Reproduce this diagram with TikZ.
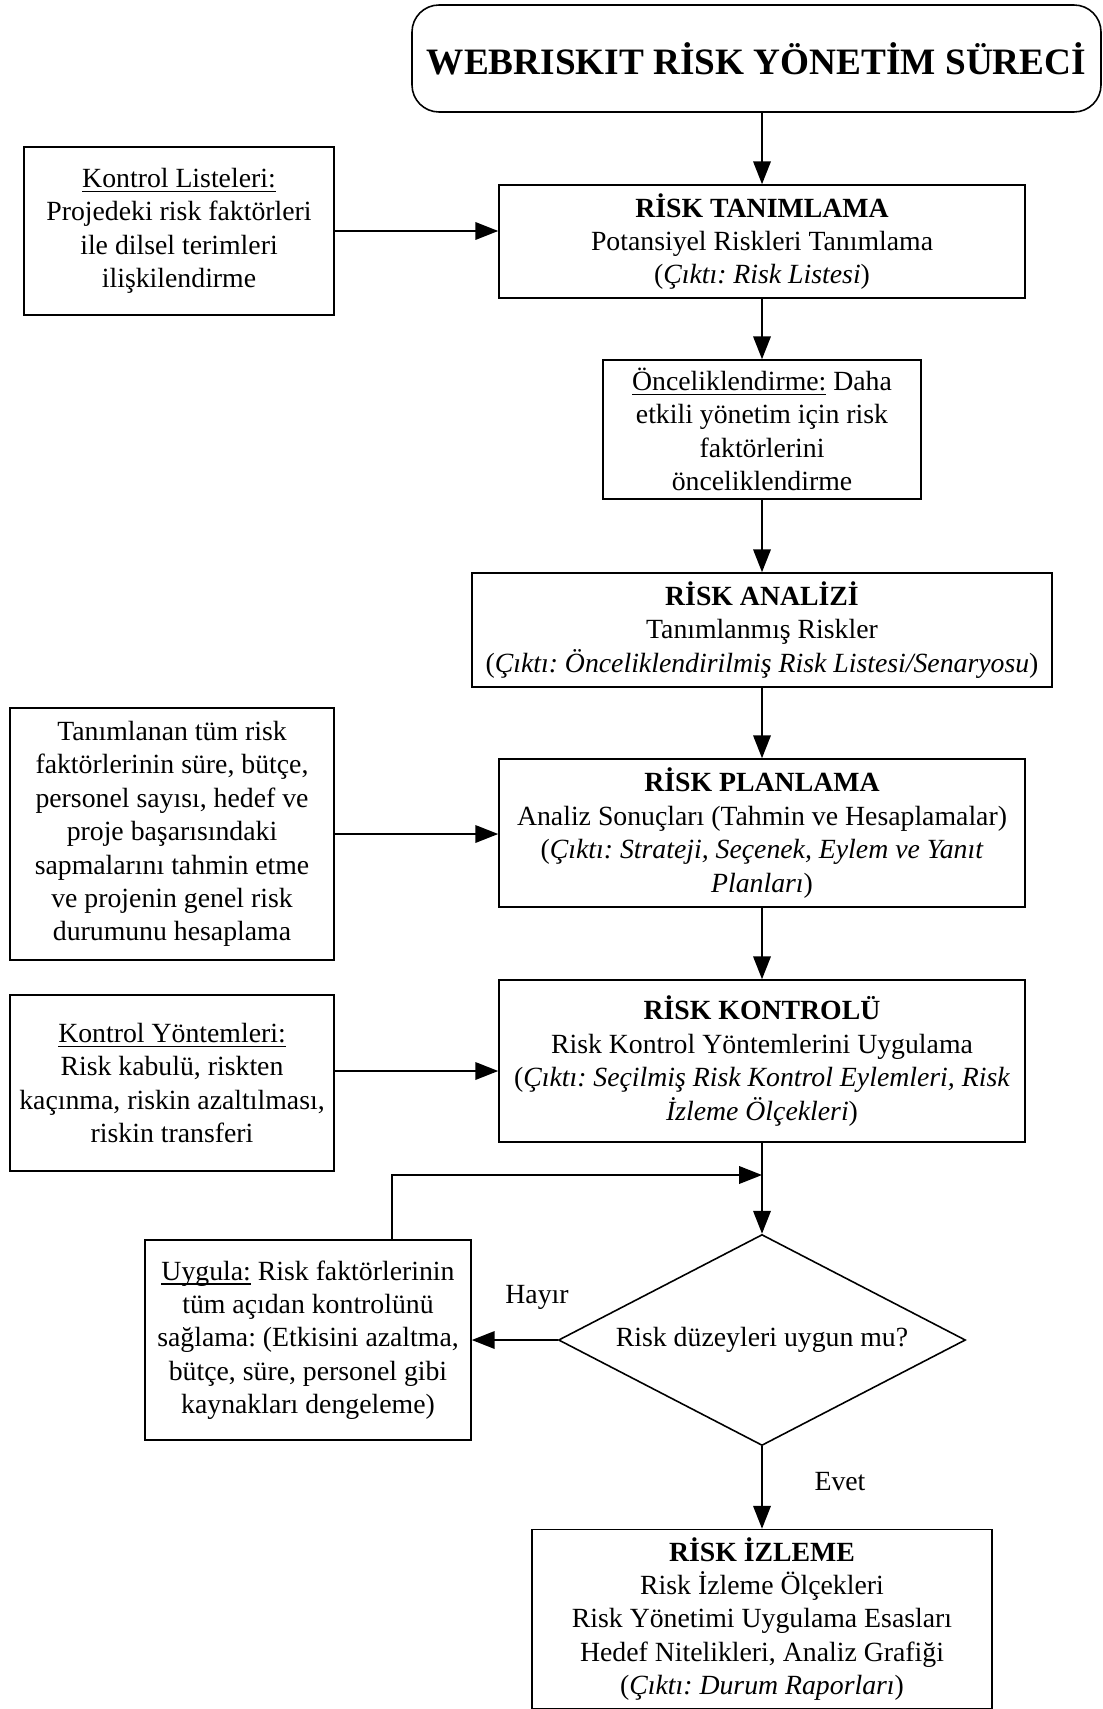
\documentclass[tikz,border=0pt]{standalone}
\usepackage{fontspec}
\setmainfont{Liberation Serif}
\usetikzlibrary{arrows.meta,shapes.geometric}
\frenchspacing
\newcommand{\altcizgi}[1]{\setbox0\hbox{#1}\rlap{\rule[-1.3pt]{\wd0}{0.35pt}}#1}

\begin{document}
\begin{tikzpicture}[
	>={Triangle[length=6.5pt,width=5pt]},
	every node/.style={font=\fontsize{7.9}{9.5}\selectfont, align=center},
	kutu/.style={draw, line width=0.45pt, inner sep=0pt},
	baslik/.style={kutu, rounded corners=0.27cm, font=\fontsize{10.6}{12}\selectfont\bfseries},
	karar/.style={kutu, diamond, aspect=1.93, minimum width=4.07cm, minimum height=2.11cm},
	ok/.style={->, line width=0.45pt}
	]
	\useasboundingbox (0,0) rectangle (11.03,-17.09);

	\node[baslik, minimum width=6.89cm, minimum height=1.07cm] (title) at (7.565,-0.585) {WEBRISKIT RİSK YÖNETİM SÜRECİ};

	\node[kutu, minimum width=3.10cm, minimum height=1.68cm] (listeler) at (1.79,-2.31) {\altcizgi{Kontrol Listeleri:}\\Projedeki risk faktörleri\\ile dilsel terimleri\\ilişkilendirme};
	\node[kutu, minimum width=5.26cm, minimum height=1.13cm] (tanimlama) at (7.62,-2.415) {\textbf{RİSK TANIMLAMA}\\Potansiyel Riskleri Tanımlama\\(\textit{Çıktı: Risk Listesi})};

	\node[kutu, minimum width=3.18cm, minimum height=1.39cm] (oncelik) at (7.62,-4.295) {\altcizgi{Önceliklendirme:} Daha\\etkili yönetim için risk\\faktörlerini\\önceliklendirme};

	\node[kutu, minimum width=5.80cm, minimum height=1.14cm] (analiz) at (7.62,-6.30) {\textbf{RİSK ANALİZİ}\\Tanımlanmış Riskler\\(\textit{Çıktı: Önceliklendirilmiş Risk Listesi/Senaryosu})};

	\node[kutu, minimum width=3.24cm, minimum height=2.52cm] (tahmin) at (1.72,-8.34) {Tanımlanan tüm risk\\faktörlerinin süre, bütçe,\\personel sayısı, hedef ve\\proje başarısındaki\\sapmalarını tahmin etme\\ve projenin genel risk\\durumunu hesaplama};
	\node[kutu, minimum width=5.26cm, minimum height=1.48cm] (planlama) at (7.62,-8.33) {\textbf{RİSK PLANLAMA}\\Analiz Sonuçları (Tahmin ve Hesaplamalar)\\(\textit{Çıktı: Strateji, Seçenek, Eylem ve Yanıt}\\\textit{Planları})};

	\node[kutu, minimum width=3.24cm, minimum height=1.76cm] (yontem) at (1.72,-10.83) {\altcizgi{Kontrol Yöntemleri:}\\Risk kabulü, riskten\\kaçınma, riskin azaltılması,\\riskin transferi};
	\node[kutu, minimum width=5.26cm, minimum height=1.62cm] (kontrol) at (7.62,-10.61) {\textbf{RİSK KONTROLÜ}\\Risk Kontrol Yöntemlerini Uygulama\\(\textit{Çıktı: Seçilmiş Risk Kontrol Eylemleri, Risk}\\\textit{İzleme Ölçekleri})};

	\coordinate (birlesim) at (7.62,-11.75);
	\node[karar] (karar) at (7.62,-13.40) {Risk düzeyleri uygun mu?};
	\node[kutu, minimum width=3.26cm, minimum height=2.00cm] (uygula) at (3.08,-13.40) {\altcizgi{Uygula:} Risk faktörlerinin\\tüm açıdan kontrolünü\\sağlama: (Etkisini azaltma,\\bütçe, süre, personel gibi\\kaynakları dengeleme)};
	\node (hayir) at (5.37,-12.97) {Hayır};
	\node (evet) at (8.40,-14.82) {Evet};

	\node[kutu, minimum width=4.60cm, minimum height=1.79cm] (izleme) at (7.62,-16.19) {\textbf{RİSK İZLEME}\\Risk İzleme Ölçekleri\\Risk Yönetimi Uygulama Esasları\\Hedef Nitelikleri, Analiz Grafiği\\(\textit{Çıktı: Durum Raporları})};

	\draw[ok] (title.south -| tanimlama.north) -- (tanimlama.north);
	\draw[ok] (listeler) -- (listeler -| tanimlama.west);
	\draw[ok] (tanimlama) -- (oncelik);
	\draw[ok] (oncelik) -- (analiz);
	\draw[ok] (analiz) -- (planlama);
	\draw[ok] (tahmin) -- (tahmin -| planlama.west);
	\draw[ok] (planlama) -- (kontrol);
	\draw[ok] ([yshift=0.12cm]yontem.east) -- ([yshift=0.12cm]yontem.east -| kontrol.west);
	\draw[ok] (kontrol) -- (karar);
	\draw[ok] ([xshift=0.84cm]uygula.north) |- (birlesim);
	\draw[ok] (karar) -- (uygula);
	\draw[ok] (karar) -- (izleme);
\end{tikzpicture}
\end{document}
